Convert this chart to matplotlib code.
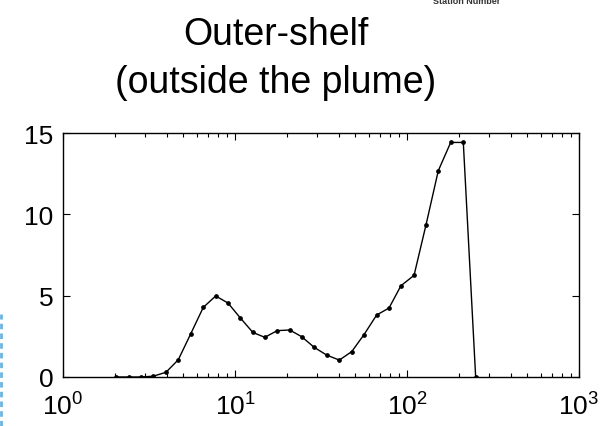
import numpy as np
import matplotlib.pyplot as plt
from matplotlib.lines import Line2D
from matplotlib.ticker import LogLocator, NullFormatter

# size class (log-spaced) and concentration for the outer-shelf station
size = [2.03, 2.41, 2.85, 3.35, 3.97, 4.68, 5.52, 6.54, 7.72, 9.1,
        10.7, 12.7, 14.9, 17.6, 20.8, 24.4, 28.9, 34.1, 40.4, 47.7,
        56.2, 66.6, 78.6, 92.2, 109.9, 128.9, 152.0, 179.5, 212.5, 250.7]
conc = [0.0, 0.0, 0.0, 0.05, 0.29, 1.06, 2.64, 4.28, 4.98, 4.55,
        3.65, 2.74, 2.44, 2.85, 2.89, 2.48, 1.82, 1.35, 1.04, 1.56,
        2.6, 3.81, 4.24, 5.61, 6.25, 9.34, 12.68, 14.42, 14.42, 0.0]
yticks = [0, 5, 10, 15]

W, H = 607, 427
fig = plt.figure(figsize=(W / 100, H / 100), dpi=100)
ax = fig.add_axes([63 / W, 1 - 378 / H, (579 - 63) / W, (378 - 134) / H])

ax.plot(size, conc, '-k', linewidth=1.0, marker='o', markersize=2.4)
ax.set_xscale('log')
ax.set_xlim(1, 1000)
ax.set_ylim(0, 15)
ax.set_yticks(yticks)
ax.xaxis.set_major_locator(LogLocator(base=10, numticks=10))
ax.xaxis.set_minor_locator(LogLocator(base=10, subs=np.arange(2, 10), numticks=20))
ax.xaxis.set_minor_formatter(NullFormatter())
ax.tick_params(which='both', direction='in', top=True, right=True,
               labelsize=19, width=0.8)
ax.tick_params(axis='x', pad=11)
ax.tick_params(axis='y', pad=7)
ax.tick_params(which='major', length=5)
ax.tick_params(which='minor', length=3)
for lab in ax.get_xticklabels() + ax.get_yticklabels():
    lab.set_fontfamily('Liberation Sans')
for sp in ax.spines.values():
    sp.set_linewidth(1.0)

fig.text(276 / W, 1 - 45 / H, 'Outer-shelf', ha='center', va='baseline',
         fontsize=27, family='Liberation Sans')
fig.text(276 / W, 1 - 93 / H, '(outside the plume)', ha='center', va='baseline',
         fontsize=27, family='Liberation Sans')
fig.text(467 / W, 1 - 2 / H, 'Station Number', ha='center', va='center',
         fontsize=6.5, fontweight='bold', color='#333333', family='Liberation Sans')

# slide border on the left edge
fig.add_artist(Line2D([1.5 / W, 1.5 / W], [0, 1 - 315 / H],
                      transform=fig.transFigure, color='#6bb4e2',
                      linewidth=2, linestyle=(0, (2, 1.5))))

fig.savefig('out.png', dpi=100)
